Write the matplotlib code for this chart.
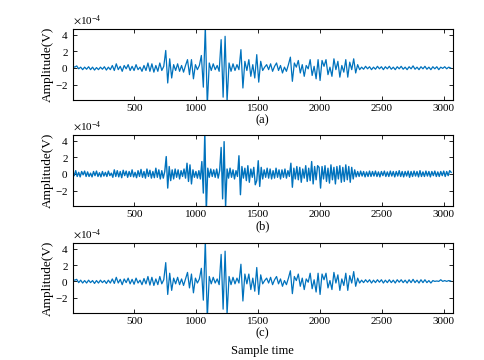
import numpy as np
import matplotlib
matplotlib.use("Agg")
import matplotlib.pyplot as plt
from matplotlib.ticker import ScalarFormatter

# amplitudes in units of 1e-4 V
# (a) and (c): one value every 16 samples, (b): one value every 12 samples
step_a = 16
amp_a = [0.2, 0.1, 0.25, -0.1, 0.1, -0.2, 0.1, -0.15, 0.15, -0.2, 0.1, -0.25, 0.05, -0.2, 0.1, -0.15, 0.15, -0.25, 0.1, -0.2,
         0.3, -0.3, 0.5, -0.2, 0.2, -0.4, 0.3, -0.1, 0.4, -0.3,
         0.2, -0.3, 0.4, -0.2, 0.1, -0.4, 0.3, -0.3, 0.6, -0.4,
         0.5, -0.5, 0.3, -0.4, 0.6, -0.3, 0.2,
         2.1, -1.8, 1.1, -1.2, 0.4, -0.3, 0.5, -0.4, 0.3, -0.5,
         0.3, 1.0, -0.8, 1.0, -1.3, 0.4, -0.2, 0.3,
         1.5, -2.3, 5.0, -4.5, 0.6, -0.3, 0.5, -0.2, 0.3, -0.4,
         3.4, -3.5, 3.8, -4.0, 0.6, -0.4, 0.5, -0.3, 0.4, -0.2,
         2.2, -2.4, 0.8, -0.3, 1.0, -1.0, 0.4, -1.2, 1.6, -1.7,
         0.8, -0.3, 0.1, 0.4, -0.2, 0.5, -0.4, 0.2, 0.6, -0.3,
         0.3, -0.6, 0.1, -0.4, 0.4, 1.3, -1.6, 0.6, 0.1, 0.9,
         -0.6, 0.4, -1.0, 0.3, -0.1, 1.0, -0.9, 0.2, -1.3, 1.0,
         -1.5, 0.9, 0.2, 1.0, -0.8, 0.1, -1.0, 1.1, -0.2, 0.8,
         -1.1, 0.3, -0.5, 1.0, -1.1, 0.7, -0.2, 1.1, -0.6, 0.4,
         -0.2, 0.1,
         -0.15, 0.2, -0.1, 0.15, -0.2, 0.1, -0.15, 0.2, -0.1, 0.15, -0.2, 0.15, -0.1, 0.2, -0.15,
         0.1, -0.2, 0.15, -0.1, 0.2, -0.15, 0.1, -0.2, 0.15, -0.1, 0.25, -0.15, 0.1, -0.2, 0.15,
         -0.1, 0.2, -0.15, 0.1, -0.2, 0.15, -0.1, 0.15, -0.2, 0.1, -0.05, 0.15, -0.1, 0.1, 0.0]

step_b = 12
amp_b = [0.3, -0.2, 0.4, -0.3, 0.2, -0.35, 0.3, -0.1, 0.35, -0.3,
         0.25, -0.3, 0.1, -0.35, 0.3, -0.2, 0.35, -0.3, 0.15, -0.35,
         0.3, -0.25, 0.2, -0.3, 0.35, -0.2, 0.1, -0.4, 0.5, -0.3,
         0.4, -0.35, 0.3, -0.45, 0.45, -0.2, 0.35, -0.4, 0.3, -0.3,
         0.5, -0.35, 0.2, -0.45, 0.4, -0.3, 0.55, -0.4, 0.3, -0.5,
         0.6, -0.3, 0.45, -0.5, 0.3, -0.45, 0.7, -0.4, 0.5, -0.6,
         0.4, -0.5, 0.3, 2.1, -1.7, 0.9, -0.8, 0.5, -0.6, 0.6,
         -0.4, 0.5, -0.6, 0.4, -0.3, 0.6, -0.5, 1.3, -0.9, 1.1,
         -1.2, 0.5, -0.4, 0.3, -0.5, 0.4, -0.6, 1.5, -2.3, 5.0,
         -4.5, 0.7, -0.4, 0.6, -0.3, 0.5, -0.4, 0.6, -0.5, 0.4,
         3.2, -3.0, 3.9, -4.0, 0.6, -0.5, 0.7, -0.4, 0.5, -0.6,
         0.4, -0.3, 2.2, -2.5, 0.9, -0.5, 0.7, -0.8, 1.0, -1.0,
         0.6, -0.4, 0.8, -1.3, -0.8, 1.6, -1.5, 0.8, -0.6, 0.5,
         -0.4, 0.7, -0.5, 0.6, -0.6, 0.4, -0.5, 0.7, -0.4, 0.5,
         -0.6, 0.5, -0.4, 0.6, -0.5, 0.4, -0.3, 1.3, -1.6, 0.7,
         -0.6, 0.9, -0.7, 0.8, -1.0, 0.6, -0.5, 1.0, -0.9, 0.7,
         -0.8, 1.5, -1.2, 0.9, -0.7, 1.0, 0.8, -1.7, 0.9, -0.6,
         1.0, -0.9, 0.7, -1.1, 1.1, -0.7, 0.8, -1.2, 0.9, -0.6,
         1.0, -1.0, 0.8, -0.9, 1.1, -0.7, 0.9, -1.0, 0.8, -0.6,
         0.5, -0.35, 0.3, -0.3, 0.35, -0.25, 0.3, -0.35, 0.25, -0.3,
         0.35, -0.3, 0.3, -0.25, 0.35, -0.3, 0.25, -0.35, 0.3, -0.2,
         0.35, -0.3, 0.25, -0.3, 0.35, -0.25, 0.3, -0.35, 0.3, -0.25,
         0.4, -0.3, 0.3, -0.35, 0.3, -0.25, 0.35, -0.4, 0.3, -0.3,
         0.35, -0.25, 0.3, -0.35, 0.4, -0.3, 0.25, -0.3, 0.35, -0.25,
         0.3, -0.35, 0.3, -0.2, 0.35, -0.3, 0.25, -0.3, 0.3, -0.2,
         0.35, -0.3, 0.3, -0.2, 0.4, 0.2]

step_c = 16
amp_c = [0.2, 0.15, 0.25, -0.15, 0.15, -0.2, 0.1, -0.2, 0.15, -0.15, 0.1, -0.25, 0.1, -0.2, 0.15, -0.15, 0.1, -0.25, 0.15, -0.2,
         0.3, -0.25, 0.5, -0.2, 0.25, -0.4, 0.3, -0.15, 0.4, -0.3,
         0.25, -0.35, 0.4, -0.2, 0.15, -0.4, 0.35, -0.3, 0.6, -0.45,
         0.5, -0.5, 0.3, -0.4, 0.6, -0.3, 0.2,
         2.3, -1.6, 1.0, -1.1, 0.4, -0.3, 0.5, -0.4, 0.3, -0.5,
         0.3, 1.1, -0.8, 0.9, -1.4, 0.4, -0.2, 0.3,
         1.6, -2.3, 5.0, -4.5, 0.6, -0.3, 0.5, -0.2, 0.3, -0.4,
         3.3, -3.4, 3.7, -4.0, 0.6, -0.4, 0.5, -0.3, 0.4, -0.2,
         2.1, -2.4, 0.9, -0.3, 0.9, -1.0, 0.4, -1.2, 1.7, -1.6,
         0.8, -0.3, 0.1, 0.4, -0.2, 0.5, -0.4, 0.2, 0.6, -0.3,
         0.3, -0.6, 0.1, -0.4, 0.4, 1.3, -1.5, 0.6, 0.1, 0.9,
         -0.6, 0.4, -1.0, 0.3, -0.1, 1.0, -0.9, 0.2, -1.3, 1.0,
         -1.6, 0.9, 0.2, 1.0, -0.8, 0.1, -1.0, 1.1, -0.2, 0.8,
         -1.1, 0.3, -0.5, 1.0, -1.1, 0.7, -0.2, 1.2, -0.6, 0.4,
         -0.2, 0.15,
         -0.15, 0.2, -0.1, 0.2, -0.2, 0.15, -0.15, 0.2, -0.1, 0.2, -0.2, 0.15, -0.15, 0.2, -0.15,
         0.15, -0.2, 0.2, -0.1, 0.2, -0.15, 0.15, -0.2, 0.2, -0.15, 0.25, -0.15, 0.15, -0.2, 0.2,
         -0.15, 0.2, -0.15, 0.1, -0.2, 0.1, 0.0, 0.05, 0.0, 0.2, 0.0, 0.1, 0.0, 0.1, 0.05]

panels = [(amp_a, step_a, "(a)"), (amp_b, step_b, "(b)"), (amp_c, step_c, "(c)")]
x_ticks = [500, 1000, 1500, 2000, 2500, 3000]
y_ticks = [-2, 0, 2, 4]

plt.rcParams['font.family'] = ['Liberation Serif', 'DejaVu Serif']
plt.rcParams['mathtext.fontset'] = 'stix'
plt.rcParams['font.size'] = 8

fig = plt.figure(figsize=(4.85, 3.6), dpi=100)
bottoms = [0.722, 0.428, 0.131]
heights = [0.198, 0.197, 0.194]

for (amp, step, lab), b, h in zip(panels, bottoms, heights):
    ax = fig.add_axes([0.150, b, 0.783, h])
    t = 1 + step * np.arange(len(amp))
    ax.plot(t, np.array(amp) * 1e-4, color='#0072BD', lw=1.0 if lab == "(b)" else 0.9)
    ax.set_xlim(1, 3072)
    ax.set_ylim(-3.85e-4, 4.7e-4)
    ax.set_xticks(x_ticks)
    ax.set_yticks([v * 1e-4 for v in y_ticks])
    fmt = ScalarFormatter(useMathText=True)
    fmt.set_powerlimits((-3, 3))
    ax.yaxis.set_major_formatter(fmt)
    ax.tick_params(direction='in', top=True, right=True, length=3, width=0.6, labelsize=8, pad=3)
    for s in ax.spines.values():
        s.set_linewidth(0.8)
    ax.set_ylabel('Amplitude(V)', fontsize=9.5, labelpad=1)
    ax.set_xlabel(lab, fontsize=9, labelpad=1)
    ax.yaxis.get_offset_text().set_fontsize(8)

fig.text(0.541, 0.026, 'Sample time', ha='center', va='center', fontsize=9)
fig.savefig('out.png', dpi=100)
